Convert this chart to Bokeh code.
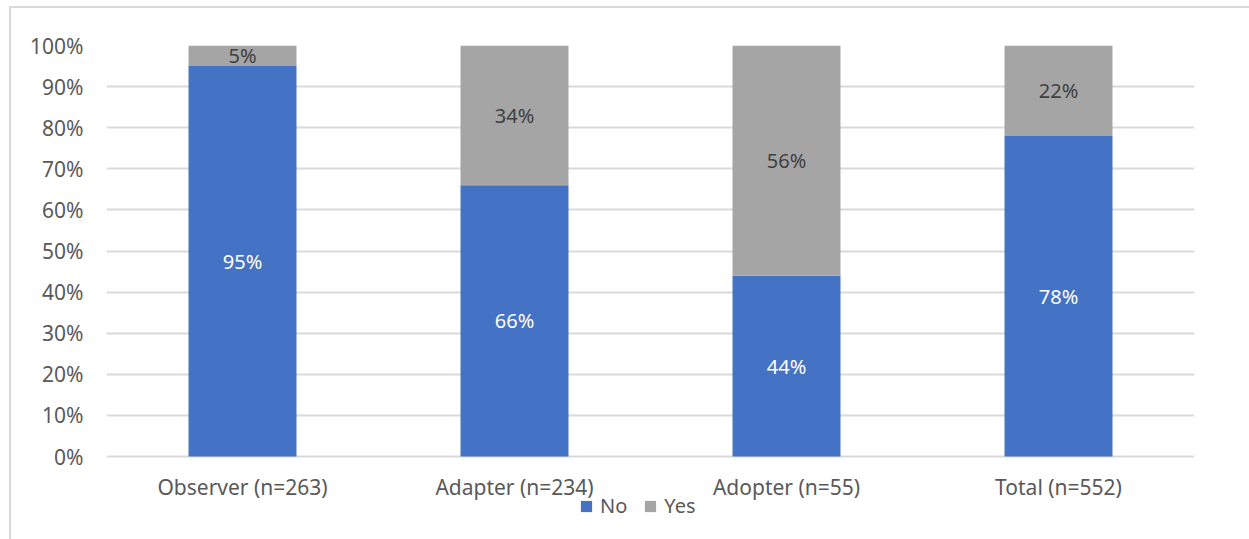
from bokeh.plotting import figure
from bokeh.models import (ColumnDataSource, FactorRange, Range1d, FixedTicker,
                          NumeralTickFormatter, Legend, LegendItem)
from bokeh.core.properties import value
from bokeh.embed import file_html
from bokeh.resources import INLINE

categories = ["Observer (n=263)", "Adapter (n=234)", "Adopter (n=55)", "Total (n=552)"]
no_values = [0.95, 0.66, 0.44, 0.78]
yes_values = [0.05, 0.34, 0.56, 0.22]
no_labels = ["95%", "66%", "44%", "78%"]
yes_labels = ["5%", "34%", "56%", "22%"]
y_ticks = [0.0, 0.1, 0.2, 0.3, 0.4, 0.5, 0.6, 0.7, 0.8, 0.9, 1.0]

FONT = "Noto Sans"
BLUE = "#4472C4"
GRAY = "#A5A5A5"
TXT = "#595959"

# layout (pixels): plot area from y=45 (100%) to y=456 (0%); frame extends to y=530
# so that the legend can sit inside the frame below the bars
TOP, ZERO, FBOT = 45, 456, 530
y_start = -(FBOT - ZERO) / (ZERO - TOP)

src = ColumnDataSource(dict(
    cat=categories,
    no=no_values,
    yes_top=[n + y for n, y in zip(no_values, yes_values)],
    no_mid=[v / 2 for v in no_values],
    yes_mid=[n + y / 2 for n, y in zip(no_values, yes_values)],
    no_lab=no_labels,
    yes_lab=yes_labels,
))

p = figure(width=1249, height=539, output_backend="svg", toolbar_location=None,
           x_range=FactorRange(*categories, range_padding=0),
           y_range=Range1d(y_start, 1),
           min_border_left=106, min_border_right=55, min_border_top=TOP,
           min_border_bottom=539 - FBOT)

# light chart-area border (left and top edges), drawn behind a transparent canvas border
p.styles = {"background": "linear-gradient(#D9D9D9,#D9D9D9) 9px 6px / 2px 100% no-repeat, "
                          "linear-gradient(#D9D9D9,#D9D9D9) 9px 6px / 100% 2px no-repeat, white"}
p.border_fill_alpha = 0
p.outline_line_color = None
p.background_fill_color = "white"

r_no = p.vbar(x="cat", top="no", bottom=0, width=0.397, source=src,
              fill_color=BLUE, line_color=None)
r_yes = p.vbar(x="cat", top="yes_top", bottom="no", width=0.397, source=src,
               fill_color=GRAY, line_color=None)

p.text(x="cat", y="no_mid", text="no_lab", source=src, text_align="center",
       text_baseline="middle", text_color="white", text_font=value(FONT),
       text_font_size="20px")
p.text(x="cat", y="yes_mid", text="yes_lab", source=src, text_align="center",
       text_baseline="middle", text_color="#404040", text_font=value(FONT),
       text_font_size="20px")

# axes
p.yaxis.ticker = FixedTicker(ticks=y_ticks)
p.yaxis.formatter = NumeralTickFormatter(format="0%")
for ax in (p.xaxis[0], p.yaxis[0]):
    ax.axis_line_color = None
    ax.major_tick_line_color = None
    ax.minor_tick_line_color = None
    ax.major_tick_in = 0
    ax.major_tick_out = 0
    ax.major_label_text_font = FONT
    ax.major_label_text_font_size = "21px"
    ax.major_label_text_color = TXT
p.yaxis.major_label_standoff = 23
p.xaxis.major_label_standoff = -58

p.xgrid.grid_line_color = None
p.ygrid.ticker = FixedTicker(ticks=y_ticks)
p.ygrid.grid_line_color = "#D9D9D9"
p.ygrid.grid_line_width = 2
p.ygrid.level = "underlay"

# legend
legend = Legend(items=[LegendItem(label="No", renderers=[r_no]),
                       LegendItem(label="Yes", renderers=[r_yes])],
                orientation="horizontal", location=(473, 11),
                glyph_width=14, glyph_height=14, label_standoff=7, spacing=16,
                padding=0, margin=0, border_line_color=None,
                background_fill_alpha=0,
                label_text_font=FONT, label_text_font_size="20px",
                label_text_color=TXT)
p.add_layout(legend, "center")

open("out.html", "w").write(file_html(p, INLINE))
